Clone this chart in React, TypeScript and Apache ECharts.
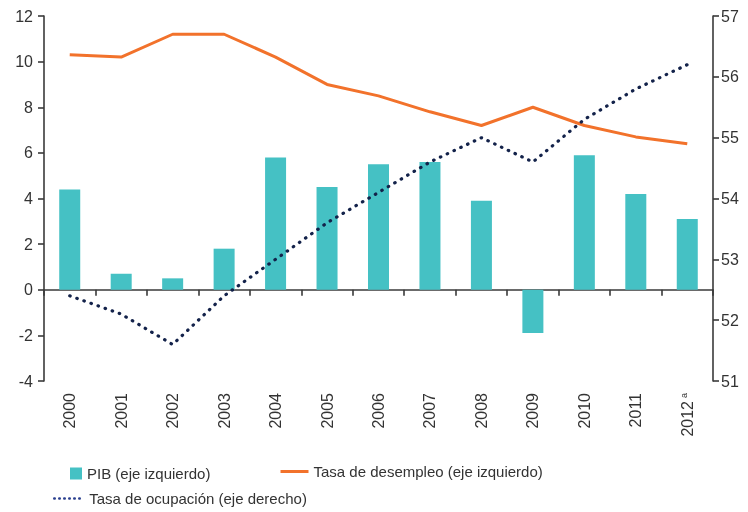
import React, { useEffect, useRef } from "react";
import * as echarts from "echarts";

const years = ["2000", "2001", "2002", "2003", "2004", "2005", "2006", "2007", "2008", "2009", "2010", "2011", "2012"];
const yearNotes: Record<string, string> = { "2012": "a" };
const pib = [4.4, 0.7, 0.5, 1.8, 5.8, 4.5, 5.5, 5.6, 3.9, -1.9, 5.9, 4.2, 3.1];
const desempleo = [10.3, 10.2, 11.2, 11.2, 10.2, 9.0, 8.5, 7.8, 7.2, 8.0, 7.2, 6.7, 6.4];
const ocupacion = [52.4, 52.1, 51.6, 52.4, 53.0, 53.6, 54.1, 54.6, 55.0, 54.6, 55.3, 55.8, 56.2];
const nameBar = "PIB (eje izquierdo)";
const nameDes = "Tasa de desempleo (eje izquierdo)";
const nameOcu = "Tasa de ocupación (eje derecho)";

const FONT = "'Liberation Sans', Arial, sans-serif";
const TXT = "#333333";
const AX = "#3a3a3a";

export default function App() {
  const ref = useRef<HTMLDivElement>(null);
  useEffect(() => {
    if (!ref.current) return;
    const chart = echarts.init(ref.current, null, { renderer: "svg" });
    const axisLineStyle = { color: AX, width: 1.6 };
    const legendText = { fontSize: 15, color: TXT, fontFamily: FONT };
    chart.setOption({
      animation: false,
      textStyle: { fontFamily: FONT },
      grid: { left: 44, right: 35, top: 16, bottom: 131, containLabel: false },
      legend: [
        {
          data: [{ name: nameBar, icon: "rect" }],
          left: 70, top: 466, padding: 0, itemWidth: 12, itemHeight: 12,
          textStyle: legendText,
        },
        {
          data: [{ name: nameDes, itemStyle: { opacity: 0 }, lineStyle: { width: 3, color: "#f2722b" } }],
          left: 279, top: 464, padding: 0, itemWidth: 28, itemHeight: 14,
          textStyle: legendText,
        },
        {
          data: [{
            name: nameOcu,
            itemStyle: { opacity: 0 },
            lineStyle: { color: "#2a3f8f", width: 2.5, type: [0.5, 4.5], cap: "round" },
          }],
          left: 53, top: 491, padding: 0, itemWidth: 30, itemHeight: 14,
          textStyle: legendText,
        },
      ],
      xAxis: [
        {
          type: "category",
          data: years,
          position: "bottom",
          axisLine: { show: true, onZero: true, lineStyle: axisLineStyle },
          axisTick: { show: true, length: 6, lineStyle: axisLineStyle },
          axisLabel: { show: false },
          splitLine: { show: false },
        },
        {
          type: "category",
          data: years,
          position: "bottom",
          axisLine: { show: false, onZero: false },
          axisTick: { show: false },
          axisLabel: {
            rotate: 90,
            margin: 12,
            color: TXT,
            fontSize: 16,
            fontFamily: FONT,
            formatter: (v: string) => (yearNotes[v] ? `{m|${v}}{s|${yearNotes[v]}}` : `{m|${v}}`),
            rich: {
              m: { fontSize: 16, color: TXT, fontFamily: FONT },
              s: { fontSize: 9, color: TXT, fontFamily: FONT, verticalAlign: "top", padding: [0, 0, 0, 3] },
            },
          },
          splitLine: { show: false },
        },
      ],
      yAxis: [
        {
          type: "value",
          min: -4, max: 12, interval: 2,
          position: "left",
          axisLine: { show: true, lineStyle: axisLineStyle },
          axisTick: { show: true, length: 6, lineStyle: axisLineStyle },
          axisLabel: { color: TXT, fontSize: 16, fontFamily: FONT, margin: 11 },
          splitLine: { show: false },
        },
        {
          type: "value",
          min: 51, max: 57, interval: 1,
          position: "right",
          axisLine: { show: true, lineStyle: axisLineStyle },
          axisTick: { show: true, length: 6, lineStyle: axisLineStyle },
          axisLabel: { color: TXT, fontSize: 16, fontFamily: FONT, margin: 8 },
          splitLine: { show: false },
        },
      ],
      series: [
        {
          name: nameBar,
          type: "bar",
          data: pib,
          xAxisIndex: 0,
          yAxisIndex: 0,
          barWidth: 21,
          itemStyle: { color: "#45c1c4" },
        },
        {
          name: nameDes,
          type: "line",
          data: desempleo,
          xAxisIndex: 0,
          yAxisIndex: 0,
          symbol: "none",
          lineStyle: { color: "#f2722b", width: 3 },
          itemStyle: { color: "#f2722b" },
        },
        {
          name: nameOcu,
          type: "line",
          data: ocupacion,
          xAxisIndex: 0,
          yAxisIndex: 1,
          symbol: "none",
          lineStyle: { color: "#13224a", width: 3.2, type: [0.5, 7], cap: "round" },
          itemStyle: { color: "#13224a" },
        },
      ],
    });
    return () => chart.dispose();
  }, []);
  return <div ref={ref} style={{ position: "fixed", left: 0, top: 0, width: 748, height: 512 }} />;
}
